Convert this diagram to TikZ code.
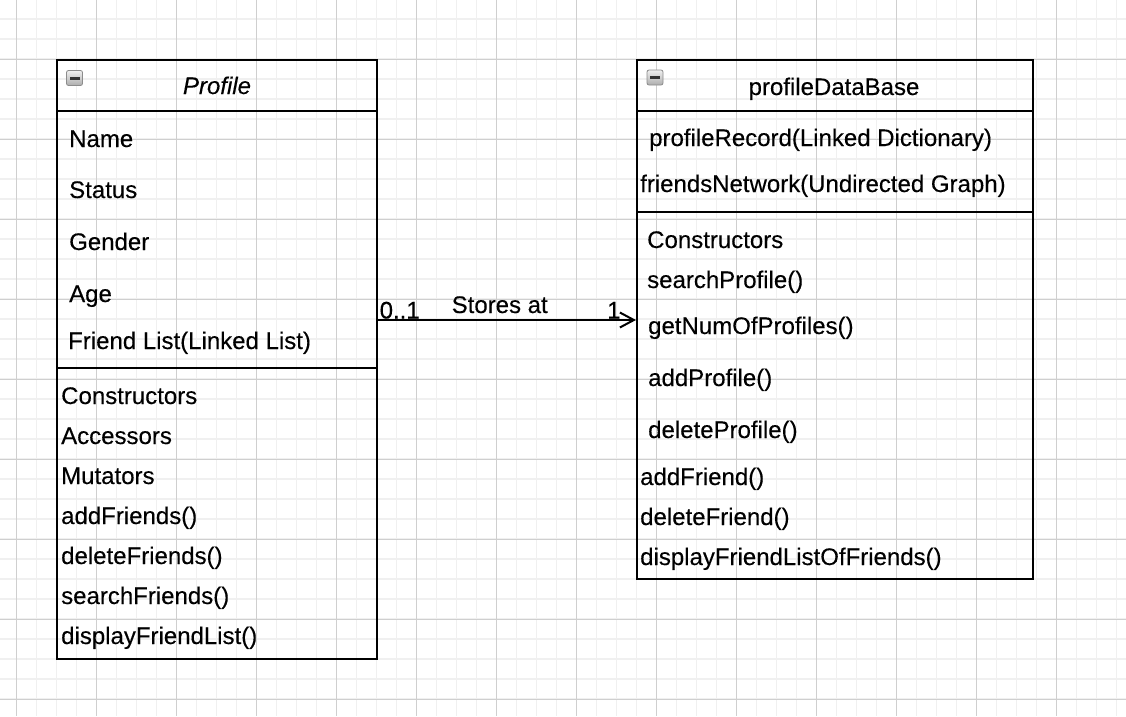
\documentclass[tikz,border=0pt]{standalone}
\usepackage{fontspec}
\setmainfont{Liberation Sans}[BoldFont={Liberation Sans}, BoldFeatures={FakeBold=0.25},
  BoldItalicFont={Liberation Sans Italic}, BoldItalicFeatures={FakeBold=0.25}]
\usetikzlibrary{arrows.meta}
\newcommand{\umlfont}{\fontsize{24}{28}\selectfont\bfseries}
\begin{document}
\begin{tikzpicture}[x=1pt,y=-1pt,
  minorline/.style={draw=black!6, line width=1.3pt},
  majorline/.style={draw=black!19, line width=1pt},
  classbox/.style={draw=black, line width=2pt, inner sep=0pt},
  divider/.style={draw=black, line width=2pt},
  member/.style={anchor=base west, inner sep=0pt, font=\umlfont},
  title/.style={anchor=base, inner sep=0pt, font=\umlfont},
  icon/.style={draw=black!45, line width=0.8pt, rounded corners=2pt, top color=black!6, bottom color=black!32, minimum width=16pt, minimum height=15pt, inner sep=0pt},
  minusbar/.style={fill=black!80, minimum width=10pt, minimum height=3pt, inner sep=0pt},
  assoc/.style={draw=black, line width=2pt, -{Straight Barb[length=14pt,width=15pt,line width=2pt]}},
  mult/.style={anchor=base west, inner sep=0pt, font=\umlfont}
]
\useasboundingbox (0,0) rectangle (1126,716);
\fill[white] (0,0) rectangle (1126,716);

% background grid
\foreach \i in {0,...,55} \draw[minorline] ({16.7+20*\i},0) -- ({16.7+20*\i},716);
\foreach \i in {0,...,34} \draw[minorline] (0,{19+20*\i}) -- (1126,{19+20*\i});
\foreach \i in {0,...,13} \draw[majorline] ({16.7+80*\i},0) -- ({16.7+80*\i},716);
\foreach \i in {0,...,8} \draw[majorline] (0,{59+80*\i}) -- (1126,{59+80*\i});

% class Profile
\node[classbox, minimum width=320pt, minimum height=599pt] (profile) at (217,359.5) {};
\draw[divider] (profile.west |- 0,111) -- (profile.east |- 0,111);
\draw[divider] (profile.west |- 0,368) -- (profile.east |- 0,368);
\node[icon] (profileicon) at (74.5,78) {};
\node[minusbar] (profileminus) at (profileicon.center) {};
\node[title, font=\umlfont\itshape] (profiletitle) at (217,94) {Profile};

\node[member] (pname) at (69,147) {Name};
\node[member] (pstatus) at (69,198) {Status};
\node[member] (pgender) at (69,250) {Gender};
\node[member] (page) at (69,302) {Age};
\node[member] (pfriends) at (68,349) {Friend List(Linked List)};

\node[member] (pm1) at (61,404) {Constructors};
\node[member] (pm2) at (61,444) {Accessors};
\node[member] (pm3) at (61,484) {Mutators};
\node[member] (pm4) at (61,524) {addFriends()};
\node[member] (pm5) at (61,564) {deleteFriends()};
\node[member] (pm6) at (61,604) {searchFriends()};
\node[member] (pm7) at (61,644) {displayFriendList()};

% class profileDataBase
\node[classbox, minimum width=396pt, minimum height=519pt] (db) at (835,319.5) {};
\draw[divider] (db.west |- 0,111) -- (db.east |- 0,111);
\draw[divider] (db.west |- 0,212) -- (db.east |- 0,212);
\node[icon] (dbicon) at (655,77.5) {};
\node[minusbar] (dbminus) at (dbicon.center) {};
\node[title] (dbtitle) at (834,95) {profileDataBase};

\node[member] (drec) at (649,146) {profileRecord(Linked Dictionary)};
\node[member] (dnet) at (640,192) {friendsNetwork(Undirected Graph)};

\node[member] (dm1) at (647,248) {Constructors};
\node[member] (dm2) at (647,288) {searchProfile()};
\node[member] (dm3) at (648,334) {getNumOfProfiles()};
\node[member] (dm4) at (648,386) {addProfile()};
\node[member] (dm5) at (648,438) {deleteProfile()};
\node[member] (dm6) at (640,485) {addFriend()};
\node[member] (dm7) at (640,525) {deleteFriend()};
\node[member] (dm8) at (640,565) {displayFriendListOfFriends()};

% association
\coordinate (assocy) at (0,320);
\draw[assoc] (profile.east |- assocy) -- (db.west |- assocy);
\node[mult] (srcmult) at (379.5,318.5) {0..1};
\node[mult] (dstmult) at (607,318.5) {1};
\node[mult] (assoclabel) at (451.5,313) {Stores at};
\end{tikzpicture}
\end{document}
